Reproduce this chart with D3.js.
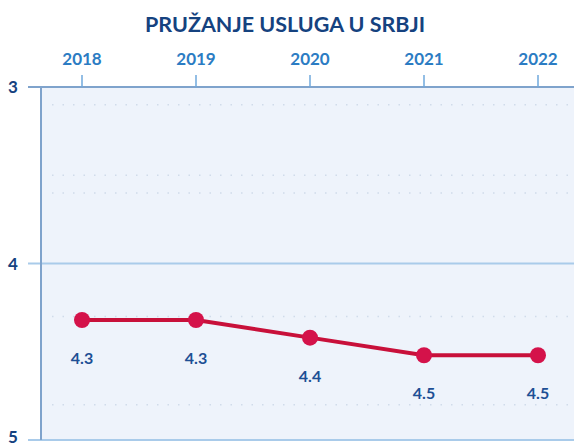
<!DOCTYPE html>
<html>
<head>
<meta charset="utf-8">
<script src="https://cdn.jsdelivr.net/npm/d3@7"></script>
<style>
  html, body { margin: 0; padding: 0; background: #fff; }
  svg { display: block; font-family: Lato, "Open Sans", sans-serif; }
</style>
</head>
<body>
<div id="graphicContainer"></div>
<script>
var title = "PRUŽANJE USLUGA U SRBJI"
var years = ["2018", "2019", "2020", "2021", "2022"]
var values = [4.32, 4.32, 4.42, 4.52, 4.52]
var yTicks = [3, 4, 5]
var dottedLines = [3.1, 3.5, 3.6, 4.3, 4.8]

var width = 574
var height = 448
var plot = { left: 41, top: 87, right: 574, bottom: 440 }

var svg = d3.select("#graphicContainer").append("svg")
  .attr("width", width)
  .attr("height", height)

var x = d3.scalePoint().domain(years).range([82, 538])
var y = d3.scaleLinear().domain([3, 5]).range([plot.top, plot.bottom])

// title
svg.append("text")
  .attr("x", 285)
  .attr("y", 32)
  .attr("text-anchor", "middle")
  .attr("fill", "#15427f")
  .style("font-size", "21.5px")
  .style("font-weight", "bold")
  .text(title)

// plot background
svg.append("rect")
  .attr("x", plot.left)
  .attr("y", plot.top)
  .attr("width", plot.right - plot.left)
  .attr("height", plot.bottom - plot.top)
  .attr("fill", "#eef3fb")

// faint dotted lines
svg.selectAll(".dotLine")
  .data(dottedLines)
  .enter().append("line")
  .attr("class", "dotLine")
  .attr("x1", 52)
  .attr("x2", plot.right)
  .attr("y1", d => y(d))
  .attr("y2", d => y(d))
  .attr("stroke", "#d0dbea")
  .attr("stroke-width", 1.5)
  .attr("stroke-dasharray", "1.5,9")

// y grid / ticks
svg.selectAll(".yGrid")
  .data(yTicks)
  .enter().append("line")
  .attr("class", "yGrid")
  .attr("x1", 28)
  .attr("x2", plot.right)
  .attr("y1", d => y(d))
  .attr("y2", d => y(d))
  .attr("stroke", function (d) { return d == 3 ? "#7fa3cc" : "#a9cbea" })
  .attr("stroke-width", 2)

svg.selectAll(".yLabel")
  .data(yTicks)
  .enter().append("text")
  .attr("class", "yLabel")
  .attr("x", 13)
  .attr("y", d => Math.min(y(d) + 6, height - 5))
  .attr("text-anchor", "middle")
  .attr("fill", "#15427f")
  .style("font-size", "17px")
  .style("font-weight", "bold")
  .text(d => d)

// left axis line
svg.append("line")
  .attr("x1", plot.left)
  .attr("x2", plot.left)
  .attr("y1", plot.top)
  .attr("y2", plot.bottom)
  .attr("stroke", "#7fa3cc")
  .attr("stroke-width", 2)

// top x axis
svg.selectAll(".xTick")
  .data(years)
  .enter().append("line")
  .attr("class", "xTick")
  .attr("x1", d => x(d))
  .attr("x2", d => x(d))
  .attr("y1", 75)
  .attr("y2", plot.top)
  .attr("stroke", "#6fa8dc")
  .attr("stroke-width", 1.5)

svg.selectAll(".xLabel")
  .data(years)
  .enter().append("text")
  .attr("class", "xLabel")
  .attr("x", d => x(d))
  .attr("y", 65)
  .attr("text-anchor", "middle")
  .attr("fill", "#2b7cc3")
  .style("font-size", "17px")
  .style("font-weight", "bold")
  .text(d => d)

// line
var line = d3.line()
  .x((d, i) => x(years[i]))
  .y(d => y(d))

svg.append("path")
  .datum(values)
  .attr("d", line)
  .attr("fill", "none")
  .attr("stroke", "#c8103a")
  .attr("stroke-width", 4)

svg.selectAll(".point")
  .data(values)
  .enter().append("circle")
  .attr("class", "point")
  .attr("cx", (d, i) => x(years[i]))
  .attr("cy", d => y(d))
  .attr("r", 8)
  .attr("fill", "#d4124a")

svg.selectAll(".valueLabel")
  .data(values)
  .enter().append("text")
  .attr("class", "valueLabel")
  .attr("x", (d, i) => x(years[i]))
  .attr("y", d => y(d) + 44)
  .attr("text-anchor", "middle")
  .attr("fill", "#1d4f95")
  .style("font-size", "16px")
  .style("font-weight", "bold")
  .text(d => d.toFixed(1))
</script>
</body>
</html>
